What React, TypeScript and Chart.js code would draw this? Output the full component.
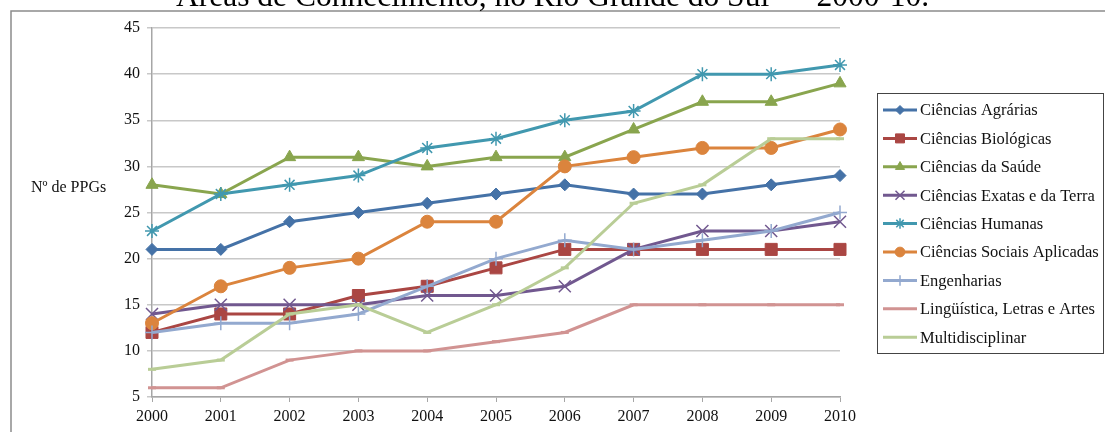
import { useEffect, useRef } from 'react';
import { Chart, registerables } from 'chart.js';
import { drawPoint } from 'chart.js/helpers';

Chart.register(...registerables);

const TITLE = 'Áreas de Conhecimento, no Rio Grande do Sul — 2000-10.';
const Y_TITLE = 'Nº de PPGs';

const years = ['2000', '2001', '2002', '2003', '2004', '2005', '2006', '2007', '2008', '2009', '2010'];

const agrarias = [21, 21, 24, 25, 26, 27, 28, 27, 27, 28, 29];
const biologicas = [12, 14, 14, 16, 17, 19, 21, 21, 21, 21, 21];
const saude = [28, 27, 31, 31, 30, 31, 31, 34, 37, 37, 39];
const exatas = [14, 15, 15, 15, 16, 16, 17, 21, 23, 23, 24];
const humanas = [23, 27, 28, 29, 32, 33, 35, 36, 40, 40, 41];
const sociais = [13, 17, 19, 20, 24, 24, 30, 31, 32, 32, 34];
const engenharias = [12, 13, 13, 14, 17, 20, 22, 21, 22, 23, 25];
const linguistica = [6, 6, 9, 10, 10, 11, 12, 15, 15, 15, 15];
const multidisciplinar = [8, 9, 14, 15, 12, 15, 19, 26, 28, 33, 33];

const seriesNames = [
  'Ciências Agrárias',
  'Ciências Biológicas',
  'Ciências da Saúde',
  'Ciências Exatas e da Terra',
  'Ciências Humanas',
  'Ciências Sociais Aplicadas',
  'Engenharias',
  'Lingüística, Letras e Artes',
  'Multidisciplinar',
];
const seriesValues = [agrarias, biologicas, saude, exatas, humanas, sociais, engenharias, linguistica, multidisciplinar];
const seriesColors = ['#4572A7', '#AA4643', '#89A54E', '#71588F', '#4198AF', '#DB843D', '#93A9CF', '#D19392', '#B9CD96'];
const seriesMarkers = ['rectRot', 'rect', 'triangle', 'crossRot', 'star', 'circle', 'cross', 'line', 'line'];
const markerRadius = [6, 8.5, 7, 8.5, 7, 6.5, 7, 4, 4];
const markerBorder = [1, 1, 1, 1.5, 1.5, 1, 1.5, 3, 3];

const SERIF = '"Liberation Serif", "Times New Roman", serif';

const decor = {
  id: 'decor',
  beforeDraw(chart: any) {
    const ctx = chart.ctx as CanvasRenderingContext2D;
    ctx.save();
    ctx.fillStyle = '#ffffff';
    ctx.fillRect(0, 0, chart.width, chart.height);
    ctx.strokeStyle = '#8c8c8c';
    ctx.lineWidth = 1.5;
    ctx.beginPath();
    ctx.moveTo(11, chart.height + 10);
    ctx.lineTo(11, 11);
    ctx.lineTo(chart.width + 10, 11);
    ctx.stroke();
    ctx.fillStyle = '#000';
    ctx.font = '31.5px ' + SERIF;
    ctx.textBaseline = 'alphabetic';
    ctx.textAlign = 'left';
    ctx.fillText(TITLE, 176, 6);
    ctx.restore();
  },
  afterDraw(chart: any) {
    const ctx = chart.ctx as CanvasRenderingContext2D;
    ctx.save();
    ctx.fillStyle = '#111';
    ctx.font = '16px ' + SERIF;
    ctx.textBaseline = 'middle';
    ctx.textAlign = 'left';
    ctx.fillText(Y_TITLE, 31, 188);
    ctx.strokeStyle = '#444';
    ctx.lineWidth = 1;
    ctx.strokeRect(877.5, 93.5, 226, 260);
    const ds = chart.data.datasets;
    ds.forEach((d: any, i: number) => {
      const y = 110 + i * 28.4;
      ctx.strokeStyle = seriesColors[i];
      ctx.lineWidth = 3;
      ctx.beginPath();
      ctx.moveTo(883, y);
      ctx.lineTo(917, y);
      ctx.stroke();
      if (seriesMarkers[i] !== 'line') {
        ctx.fillStyle = seriesColors[i];
        ctx.strokeStyle = seriesColors[i];
        ctx.lineWidth = markerBorder[i];
        drawPoint(ctx, { pointStyle: seriesMarkers[i], radius: markerRadius[i] * 0.75, borderWidth: markerBorder[i], rotation: 0 } as any, 900, y);
      }
      ctx.fillStyle = '#111';
      ctx.font = '16.5px ' + SERIF;
      ctx.textBaseline = 'middle';
      ctx.textAlign = 'left';
      ctx.fillText(d.label, 920, y + 1);
    });
    ctx.restore();
  },
};

export default function App() {
  const ref = useRef<HTMLCanvasElement | null>(null);
  useEffect(() => {
    if (!ref.current) return;
    const n = seriesNames.length;
    const chart = new Chart(ref.current, {
      type: 'line',
      data: {
        labels: years,
        datasets: seriesNames.map((name, i) => ({
          label: name,
          data: seriesValues[i],
          borderColor: seriesColors[i],
          backgroundColor: seriesColors[i],
          borderWidth: 3,
          pointStyle: seriesMarkers[i] as any,
          pointRadius: markerRadius[i],
          pointBorderWidth: markerBorder[i],
          pointBackgroundColor: seriesColors[i],
          pointBorderColor: seriesColors[i],
          tension: 0,
          fill: false,
          order: n - i,
        })),
      },
      options: {
        responsive: false,
        animation: false,
        events: [],
        layout: { padding: { left: 0, top: 28, right: 265, bottom: 0 } },
        plugins: {
          legend: { display: false },
          tooltip: { enabled: false },
          title: { display: false },
        },
        scales: {
          x: {
            type: 'category',
            offset: false,
            afterFit: (s: any) => { s.height = 35; },
            grid: { display: true, drawOnChartArea: false, drawTicks: true, tickLength: 5, color: '#a6a6a6', lineWidth: 1 },
            border: { display: true, color: '#a6a6a6', width: 1.5 },
            ticks: { color: '#111', font: { family: SERIF, size: 16 }, padding: 5, maxRotation: 0, autoSkip: false },
          },
          y: {
            min: 5,
            max: 45,
            afterFit: (s: any) => { s.width = 152; },
            grid: { color: '#c8c8c8', lineWidth: 1.5, drawTicks: true, tickLength: 5 },
            border: { display: true, color: '#a6a6a6', width: 1.5 },
            ticks: { stepSize: 5, color: '#111', font: { family: SERIF, size: 16 }, padding: 7 },
          },
        },
      },
      plugins: [decor],
    });
    return () => chart.destroy();
  }, []);
  return (
    <div style={{ position: 'fixed', left: 0, top: 0, width: 1105, height: 432, overflow: 'hidden', background: '#fff' }}>
      <canvas ref={ref} width={1105} height={432} style={{ display: 'block', width: 1105, height: 432 }} />
    </div>
  );
}
